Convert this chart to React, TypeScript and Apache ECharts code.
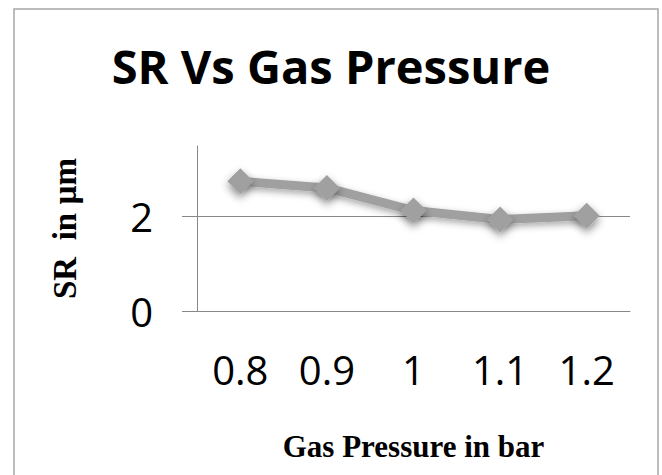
import React, { useEffect, useRef } from "react";
import * as echarts from "echarts";

const categories = ["0.8", "0.9", "1", "1.1", "1.2"];
const srValues = [2.75, 2.61, 2.13, 1.94, 2.02];
const yTicks = [0, 2];
const gridValue = 2;

export default function App() {
  const ref = useRef<HTMLDivElement>(null);
  useEffect(() => {
    document.body.style.margin = "0";
    const chart = echarts.init(ref.current!, null, { renderer: "svg" });
    chart.setOption({
      animation: false,
      backgroundColor: "#ffffff",
      title: {
        text: "SR Vs Gas Pressure",
        left: "center",
        top: 37,
        textStyle: {
          fontFamily: "Open Sans",
          fontWeight: "bold",
          fontSize: 47,
          color: "#000",
        },
      },
      graphic: [
        {
          type: "rect",
          shape: { x: 14, y: 9, width: 644, height: 480 },
          style: { fill: "none", stroke: "#a6a6a6", lineWidth: 1.5 },
          silent: true,
        },
      ],
      grid: { left: 197, right: 32, top: 146, bottom: 164 },
      xAxis: {
        type: "category",
        data: categories,
        boundaryGap: true,
        axisLine: { show: true, lineStyle: { color: "#888", width: 1 } },
        axisTick: { show: false },
        axisLabel: {
          margin: 38,
          fontFamily: "Open Sans",
          fontSize: 40,
          color: "#000",
        },
        name: "Gas Pressure in bar",
        nameLocation: "middle",
        nameGap: 120,
        nameTextStyle: {
          fontFamily: "Liberation Serif",
          fontWeight: "bold",
          fontSize: 31,
          color: "#000",
        },
      },
      yAxis: {
        type: "value",
        min: 0,
        max: 3.5,
        interval: 2,
        axisLine: { show: true, lineStyle: { color: "#888", width: 1 } },
        axisTick: {
          show: true,
          inside: false,
          length: 15,
          customValues: yTicks,
          lineStyle: { color: "#888" },
        },
        axisLabel: {
          margin: 44,
          fontFamily: "Open Sans",
          fontSize: 40,
          color: "#000",
          customValues: yTicks,
        },
        splitLine: { show: false },
        name: "SR  in µm",
        nameLocation: "middle",
        nameGap: 116,
        nameRotate: 90,
        nameTextStyle: {
          fontFamily: "Liberation Serif",
          fontWeight: "bold",
          fontSize: 33,
          color: "#000",
        },
      },
      series: [
        {
          type: "line",
          data: srValues,
          symbol: "diamond",
          symbolSize: 26,
          lineStyle: {
            color: "#a0a0a0",
            width: 9,
            shadowColor: "rgba(0,0,0,0.35)",
            shadowBlur: 7,
            shadowOffsetY: 3,
          },
          itemStyle: {
            color: "#a0a0a0",
            shadowColor: "rgba(0,0,0,0.45)",
            shadowBlur: 9,
            shadowOffsetY: 4,
          },
          markLine: {
            silent: true,
            symbol: "none",
            label: { show: false },
            lineStyle: { color: "#888", width: 1, type: "solid" },
            data: [{ yAxis: gridValue }],
            z: 1,
          },
          z: 3,
        },
      ],
    });
    return () => chart.dispose();
  }, []);
  return <div ref={ref} style={{ width: 662, height: 475 }} />;
}
